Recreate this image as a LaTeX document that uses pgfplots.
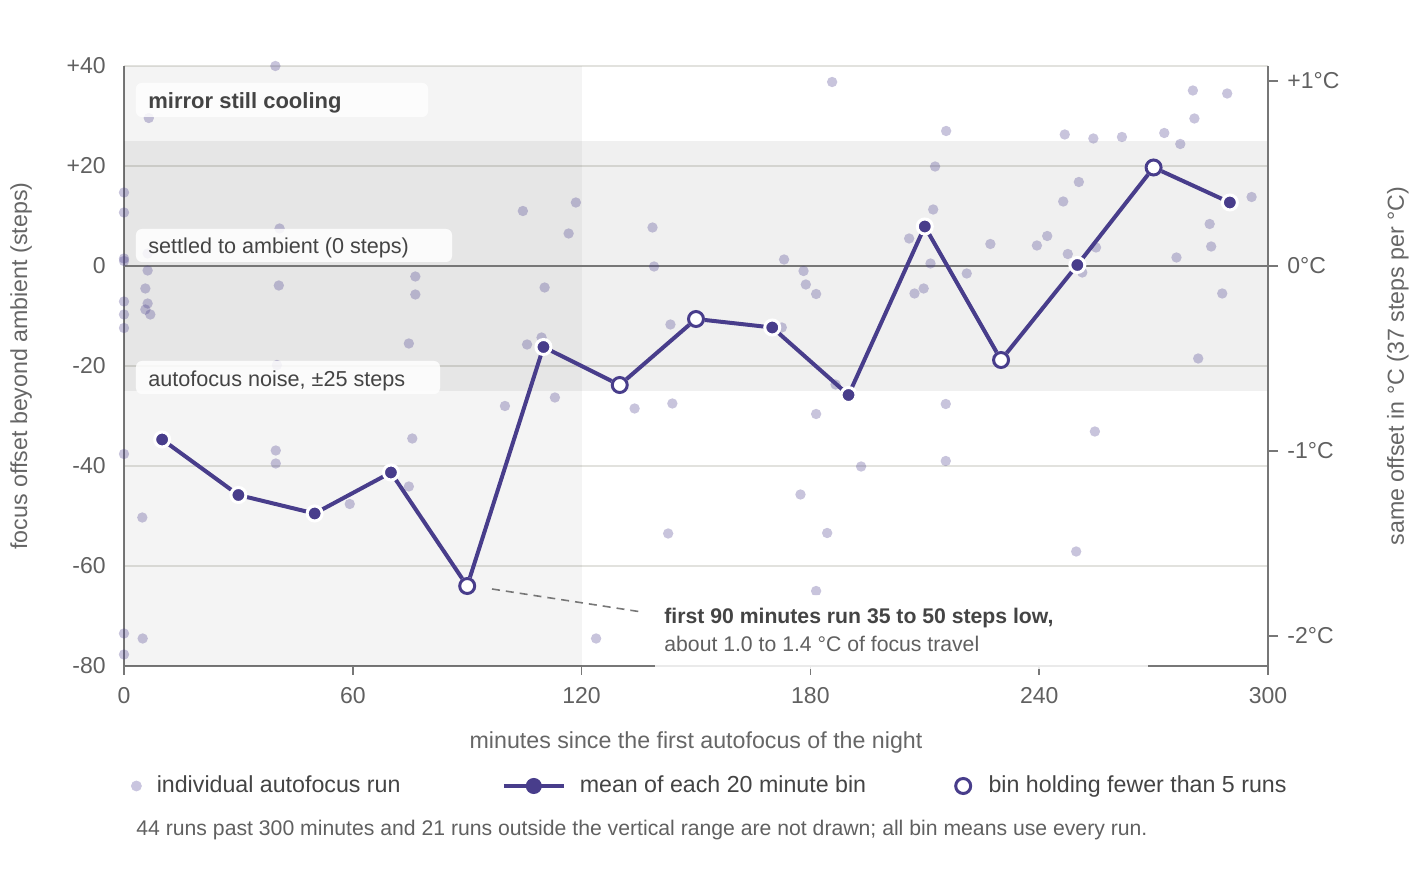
\documentclass[border=0pt]{standalone}
\usepackage{fontspec}
\setmainfont{Liberation Sans}
\usepackage{pgfplots}
\pgfplotsset{compat=1.18}
\definecolor{mean}{HTML}{483D8B}
\definecolor{tick}{HTML}{606060}
\definecolor{lab}{HTML}{666666}
\definecolor{dark}{HTML}{444444}
\definecolor{axisc}{HTML}{777777}
\definecolor{gridc}{HTML}{E2E2DE}
\definecolor{dot}{HTML}{C9C5DF}
\newcommand{\fs}[1]{\fontsize{#1}{#1}\selectfont}

\pgfplotstableread{
x y
0 14.7
0 10.7
0 1.5
0 1.0
0 -7.1
0 -9.7
0 -12.4
0 -37.6
0 -73.5
0 -77.7
4.8 -50.3
4.9 -74.5
5.6 -4.5
5.6 -8.7
6.2 2.5
6.2 -0.9
6.2 -7.5
6.5 29.6
6.9 -9.7
39.7 40
39.8 -36.9
39.8 -39.5
40.1 -19.8
40.6 -3.9
40.8 7.5
59.2 -47.6
74.7 -15.5
74.7 -44.1
75.6 -34.5
76.4 -2.1
76.4 -5.7
99.9 -28
104.6 11
105.7 -15.7
109.5 -14.3
110.3 -4.3
113 -26.3
116.6 6.5
118.5 12.7
123.8 -74.5
133.9 -28.5
138.6 7.7
139 -0.1
142.7 -53.5
143.3 -11.7
143.8 -27.5
172.5 -12.3
173.1 1.3
177.4 -45.7
178.2 -1.0
178.8 -3.7
181.5 -5.6
181.5 -29.6
181.5 -65
184.4 -53.4
185.7 36.8
186.6 -23.7
193.3 -40.1
205.9 5.5
207.3 -5.5
209.7 -4.5
211.5 0.5
212.2 11.3
212.7 19.9
215.5 -27.6
215.5 -39
215.6 27
221 -1.5
227.2 4.4
239.4 4.1
242.1 6.0
246.3 12.9
246.7 26.3
247.5 2.4
249.7 -57.1
250.4 16.8
251.3 -1.3
254.2 25.5
254.6 -33.1
254.9 3.7
261.7 25.8
272.8 26.6
276 1.7
277 24.4
280.3 35.1
280.7 29.5
281.7 -18.5
284.7 8.4
285.1 3.9
288 -5.5
289.3 34.5
295.7 13.8
}\runs

\pgfplotstableread{
x y
10 -34.7
30 -45.8
50 -49.5
70 -41.3
90 -64.0
110 -16.2
130 -23.8
150 -10.6
170 -12.3
190 -25.8
210 7.9
230 -18.8
250 0.2
270 19.7
290 12.7
}\means

\pgfplotstableread{
x y
90 -64.0
130 -23.8
150 -10.6
230 -18.8
270 19.7
}\fewruns

\begin{document}
\begin{tikzpicture}
\path[use as bounding box] (-62pt,-111pt) rectangle (651pt,333pt);
\begin{axis}[
  at={(0,0)}, anchor=south west,
  scale only axis, width=572pt, height=300pt,
  xmin=0, xmax=300, ymin=-80, ymax=40,
  clip=false,
  axis x line*=bottom, axis y line*=left,
  axis line style={axisc, line width=1pt, -},
  xtick={0,60,120,180,240,300},
  xticklabels={0,60,120,180,240,300},
  ytick={-80,-60,-40,-20,0,20,40},
  yticklabels={-80,-60,-40,-20,0,+20,+40},
  ymajorgrids, grid style={gridc, line width=0.8pt},
  x tick style={axisc, line width=0.8pt},
  y tick style={draw=none},
  tick align=outside, major tick length=4.5pt,
  xticklabel style={font=\fs{11.5}, text=tick, anchor=base, inner sep=0pt, yshift=-14.5pt},
  yticklabel style={font=\fs{11.5}, text=tick, anchor=east, inner sep=0pt, xshift=-4.5pt},
  every axis x label/.style={at={(axis description cs:0.5,-0.1367)}, anchor=base, font=\fs{11.6}, text=lab},
  every axis y label/.style={at={(axis description cs:-0.09,0.5)}, rotate=90, anchor=center, font=\fs{11.6}, text=lab},
  xlabel={minutes since the first autofocus of the night},
  ylabel={focus offset beyond ambient (steps)},
  legend style={at={(axis description cs:-0.0035,-0.2)}, anchor=west, draw=none, fill=none,
    inner sep=0pt, outer sep=0pt, font=\fs{11.6}, text=dark, legend columns=3,
    nodes={inner sep=0pt}, /tikz/column sep=0pt},
  legend cell align=left,
]
\fill[black, fill opacity=0.045] (axis cs:0,-80) rectangle (axis cs:120,40);
\fill[black, fill opacity=0.06] (axis cs:0,-25) rectangle (axis cs:300,25);
\draw[axisc, line width=1.2pt] (axis cs:0,0) -- (axis cs:300,0);

\addplot[only marks, mark=*, mark size=2.6pt, mark options={draw=mean, draw opacity=0, fill=mean, fill opacity=0.3},
  legend image code/.code={\path (-8pt,0) (10pt,0); \fill[dot] (0,0) circle (2.5pt);}]
  table[x=x, y=y] {\runs};
\addlegendentry{\makebox[172.5pt][l]{individual autofocus run}}

\addplot[mean, line width=2pt, mark=*, mark size=3.75pt, mark options={fill=mean, draw=white, line width=1.5pt},
  legend image code/.code={\path (0,0) (37pt,0); \draw[mean, line width=2pt] (0,0) -- (30pt,0); \fill[mean] (15pt,0) circle (3pt);}]
  table[x=x, y=y] {\means};
\addlegendentry{\makebox[183pt][l]{mean of each 20 minute bin}}

\addplot[only marks, mark=*, mark size=3.75pt, mark options={fill=white, draw=mean, line width=1.5pt},
  legend image code/.code={\path (-8.5pt,0) (12.5pt,0); \draw[mean, line width=1.5pt, fill=white] (0,0) circle (3.75pt);}]
  table[x=x, y=y] {\fewruns};
\addlegendentry{bin holding fewer than 5 runs}

\draw[axisc, line width=0.8pt, dash pattern=on 4pt off 3pt] (axis cs:96.5,-64.6) -- (axis cs:135.8,-69.2);
\end{axis}

\begin{axis}[
  at={(0,0)}, anchor=south west,
  scale only axis, width=572pt, height=300pt,
  xmin=0, xmax=300, ymin=-2.162162, ymax=1.081081,
  hide x axis,
  axis y line*=right,
  axis line style={axisc, line width=1pt, -},
  ytick={-2,-1,0,1},
  yticklabels={-2°C,-1°C,0°C,+1°C},
  y tick style={axisc, line width=0.8pt},
  tick align=outside, major tick length=5pt,
  yticklabel style={font=\fs{11.5}, text=tick, anchor=west, inner sep=0pt, xshift=4.5pt},
  every axis y label/.style={at={(axis description cs:1.1136,0.5)}, rotate=90, anchor=center, font=\fs{11.6}, text=lab},
  ylabel={same offset in °C (37 steps per °C)},
]
\addplot[draw=none] coordinates {(0,0)};
\end{axis}

% label boxes
\fill[white, fill opacity=0.85, rounded corners=3pt] (6pt,274.5pt) rectangle (152pt,291.5pt);
\node[anchor=base west, inner sep=0pt, font=\fs{11}\bfseries, text=dark] at (12pt,278.8pt) {mirror still cooling};
\fill[white, fill opacity=0.85, rounded corners=3pt] (6pt,202pt) rectangle (164pt,218.5pt);
\node[anchor=base west, inner sep=0pt, font=\fs{10.8}, text=dark] at (12pt,206.3pt) {settled to ambient (0 steps)};
\fill[white, fill opacity=0.85, rounded corners=3pt] (6pt,136pt) rectangle (158pt,152.5pt);
\node[anchor=base west, inner sep=0pt, font=\fs{10.8}, text=dark] at (12pt,139.7pt) {autofocus noise, ±25 steps};

% annotation
\fill[white, fill opacity=0.85] (265.5pt,-1.5pt) rectangle (512pt,35.5pt);
\node[anchor=base west, inner sep=0pt, font=\fs{10.6}\bfseries, text=dark] at (270pt,21pt) {first 90 minutes run 35 to 50 steps low,};
\node[anchor=base west, inner sep=0pt, font=\fs{10.6}, text=tick] at (270pt,7.2pt) {about 1.0 to 1.4 °C of focus travel};

% footnote
\node[anchor=base west, inner sep=0pt, font=\fs{10.6}, text=tick] at (6pt,-85pt) {44 runs past 300 minutes and 21 runs outside the vertical range are not drawn; all bin means use every run.};
\end{tikzpicture}
\end{document}
